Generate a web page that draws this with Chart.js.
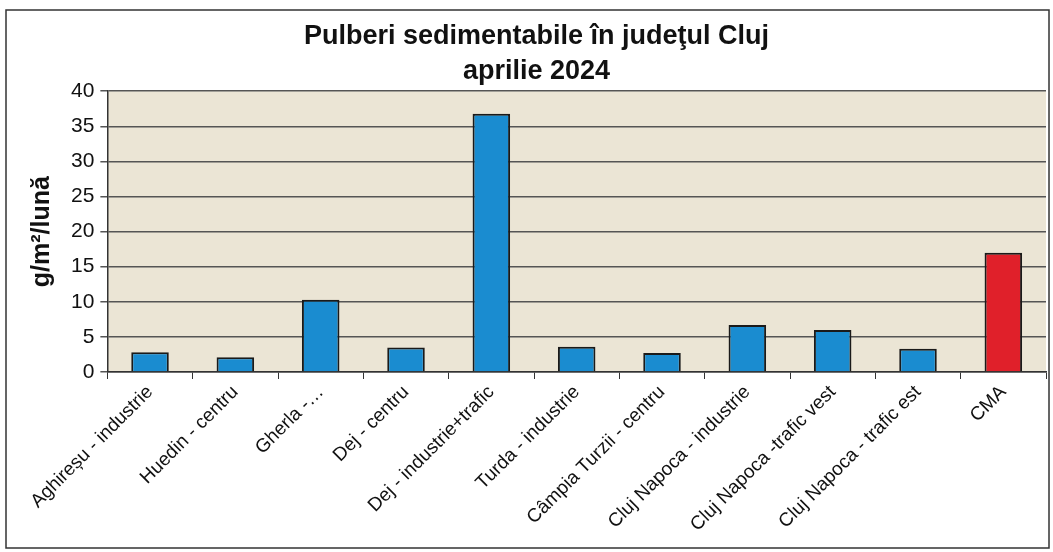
<!DOCTYPE html>
<html>
<head>
<meta charset="utf-8">
<script src="https://cdn.jsdelivr.net/npm/chart.js@4/dist/chart.umd.min.js"></script>
<style>
  html, body { margin: 0; padding: 0; background: #ffffff; }
  #wrap { position: relative; width: 1053px; height: 552px; }
</style>
</head>
<body>
<div id="wrap"><canvas id="chart" width="1053" height="552"></canvas></div>
<script>
// data
var stations = ['Aghireșu - industrie', 'Huedin - centru', 'Gherla -…', 'Dej - centru',
    'Dej - industrie+trafic', 'Turda - industrie', 'Câmpia Turzii - centru',
    'Cluj Napoca - industrie', 'Cluj Napoca -trafic vest', 'Cluj Napoca - trafic est', 'CMA'];
var values = [2.8, 2.1, 10.3, 3.5, 36.8, 3.6, 2.7, 6.7, 6.0, 3.3, 17];
var titleLines = ['Pulberi sedimentabile în judeţul Cluj', 'aprilie 2024'];
var yLabel = 'g/m²/lună';

function barFill(context) {
    var chart = context.chart;
    var el = context.element;
    var red = context.dataIndex === values.length - 1;
    if (!chart.chartArea || !el || el.width === undefined) {
        return red ? '#e0202a' : '#1a8cd0';
    }
    var x0 = el.x - el.width / 2;
    var g = chart.ctx.createLinearGradient(x0, 0, x0 + el.width, 0);
    if (red) {
        g.addColorStop(0, '#c8141c');
        g.addColorStop(0.5, '#e8262e');
        g.addColorStop(1, '#c8141c');
    } else {
        g.addColorStop(0, '#137ab8');
        g.addColorStop(0.5, '#2196d8');
        g.addColorStop(1, '#137ab8');
    }
    return g;
}

// beige plot background + frame round the whole picture
var backdrop = {
    id: 'backdrop',
    beforeDraw: function(chart) {
        var ctx = chart.ctx, a = chart.chartArea;
        ctx.save();
        ctx.fillStyle = '#ebe5d5';
        ctx.fillRect(a.left, a.top, a.right - a.left, a.bottom - a.top);
        ctx.strokeStyle = '#333';
        ctx.lineWidth = 1.5;
        ctx.strokeRect(6, 10, chart.width - 10, chart.height - 14);
        ctx.restore();
    }
};

var chartConfig = {
    type: 'bar',
    data: {
        labels: stations,
        datasets: [{
            data: values,
            backgroundColor: barFill,
            borderColor: '#1a1a1a',
            borderWidth: 2,
            barPercentage: 0.44,
            categoryPercentage: 1
        }]
    },
    options: {
        responsive: false,
        animation: false,
        layout: { padding: { left: 27, right: 7, top: 4, bottom: 14 } },
        plugins: {
            legend: { display: false },
            tooltip: { enabled: false },
            title: {
                display: true,
                text: titleLines,
                color: '#111',
                font: { family: "'Liberation Sans', Arial, sans-serif", size: 27, weight: 'bold', lineHeight: 1.3 },
                padding: { top: 15, bottom: 2 }
            }
        },
        scales: {
            x: {
                grid: { drawOnChartArea: false, color: '#333', tickLength: 7, offset: true },
                border: { color: '#333', width: 1.5 },
                ticks: {
                    color: '#111',
                    autoSkip: false,
                    minRotation: 45,
                    maxRotation: 45,
                    padding: 2,
                    font: { family: "'Liberation Sans', Arial, sans-serif", size: 19 }
                }
            },
            y: {
                min: 0,
                max: 40,
                ticks: {
                    stepSize: 5,
                    color: '#111',
                    padding: 6,
                    font: { family: "'Liberation Sans', Arial, sans-serif", size: 21 }
                },
                grid: { color: '#555', lineWidth: 1.5, tickLength: 7 },
                border: { color: '#333', width: 1.5 },
                title: {
                    display: true,
                    text: yLabel,
                    color: '#111',
                    font: { family: "'Liberation Sans', Arial, sans-serif", size: 25, weight: 'bold' },
                    padding: { top: 0, bottom: 8 }
                }
            }
        }
    },
    plugins: [backdrop]
};

window.onload = function() {
    var ctx = document.getElementById('chart').getContext('2d');
    window.myBar = new Chart(ctx, chartConfig);
};
</script>
</body>
</html>
